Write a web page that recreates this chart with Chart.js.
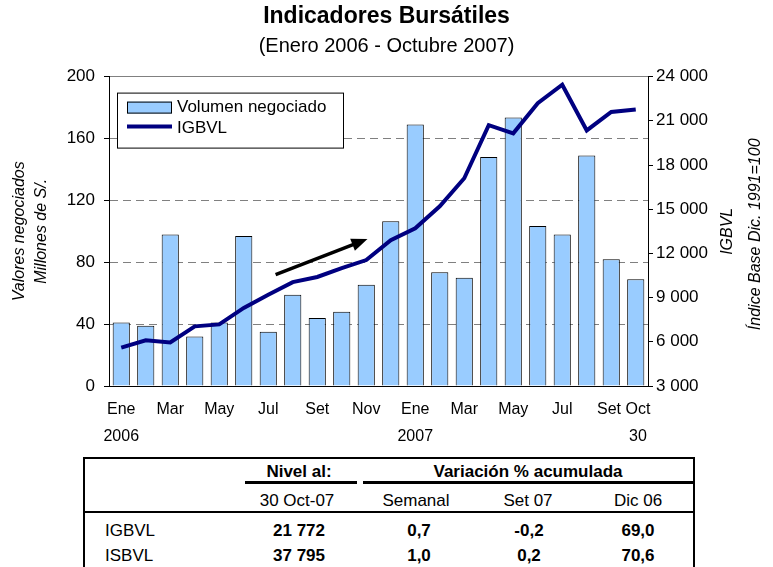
<!DOCTYPE html>
<html>
<head>
<meta charset="utf-8">
<script src="https://cdn.jsdelivr.net/npm/chart.js@4.4.1/dist/chart.umd.min.js"></script>
<style>
  body { margin: 0; background: #fff; overflow: hidden; width: 773px; height: 567px; position: relative; }
  #grafico { position: absolute; left: 0; top: 0; }
  #tabla { position: absolute; left: 83px; top: 457px; width: 612px; height: 130px; box-sizing: border-box;
           border: 2px solid #000; border-bottom: none; font-family: 'Liberation Sans', Arial, sans-serif;
           font-size: 17px; color: #000; }
  #tabla .c { position: absolute; transform: translate(-50%, -50%); white-space: nowrap; }
  #tabla .l { position: absolute; transform: translateY(-50%); white-space: nowrap; }
  #tabla .b { font-weight: bold; }
  #tabla .rule { position: absolute; background: #000; }
</style>
</head>
<body>
<canvas id="grafico" width="773" height="455"></canvas>
<div id="tabla"></div>
<script>
// datos del grafico
const meses = ['Ene', 'Feb', 'Mar', 'Abr', 'May', 'Jun', 'Jul', 'Ago', 'Set', 'Oct', 'Nov', 'Dic',
               'Ene', 'Feb', 'Mar', 'Abr', 'May', 'Jun', 'Jul', 'Ago', 'Set', 'Oct'];
const segundaLinea = {0: '2006', 12: '2007', 21: '30'};
const volumen = [41, 39, 98, 32, 41, 97, 35, 59, 44, 48, 65.5, 106.5,
                 169, 73.5, 70, 148, 173.5, 103.5, 98, 149, 82, 69];
const igbvl = [5600, 6100, 5950, 7050, 7180, 8300, 9200, 10050, 10400, 11000, 11550, 12900,
               13700, 15200, 17100, 20700, 20150, 22200, 23450, 20350, 21600, 21772];
// flecha de tendencia (indice de mes, valor eje izquierdo)
const flechaDesde = [6.3, 72];
const flechaHasta = [10.05, 95];

// datos de la tabla
const filas = ['IGBVL', 'ISBVL'];
const nivel = ['21 772', '37 795'];
const semanal = ['0,7', '1,0'];
const set07 = ['-0,2', '0,2'];
const dic06 = ['69,0', '70,6'];

const FUENTE = "'Liberation Sans', Arial, sans-serif";
Chart.defaults.font.family = FUENTE;
Chart.defaults.color = '#000';

function miles(v) {
    return String(v).replace(/\B(?=(\d{3})+(?!\d))/g, ' ');
}

const extras = {
    id: 'extras',
    afterDatasetsDraw(chart) {
        const {ctx, chartArea: a, scales: {x, y}} = chart;
        // flecha
        const x1 = x.getPixelForValue(flechaDesde[0]), y1 = y.getPixelForValue(flechaDesde[1]);
        const x2 = x.getPixelForValue(flechaHasta[0]), y2 = y.getPixelForValue(flechaHasta[1]);
        const ang = Math.atan2(y2 - y1, x2 - x1);
        ctx.save();
        ctx.strokeStyle = '#000';
        ctx.fillStyle = '#000';
        ctx.lineWidth = 3.5;
        ctx.beginPath();
        ctx.moveTo(x1, y1);
        ctx.lineTo(x2 - 12 * Math.cos(ang), y2 - 12 * Math.sin(ang));
        ctx.stroke();
        ctx.translate(x2, y2);
        ctx.rotate(ang);
        ctx.beginPath();
        ctx.moveTo(0, 0);
        ctx.lineTo(-16, -6.5);
        ctx.lineTo(-16, 6.5);
        ctx.closePath();
        ctx.fill();
        ctx.restore();

        // leyenda
        const ds = chart.data.datasets;
        const lx = a.left + 8, ly = a.top + 16;
        ctx.save();
        ctx.fillStyle = '#fff';
        ctx.fillRect(lx, ly, 226, 55);
        ctx.strokeStyle = '#000';
        ctx.lineWidth = 1;
        ctx.strokeRect(lx + 0.5, ly + 0.5, 226, 55);
        ctx.fillStyle = ds[1].backgroundColor;
        ctx.fillRect(lx + 10, ly + 9, 45, 12);
        ctx.strokeRect(lx + 10.5, ly + 9.5, 44, 11);
        ctx.strokeStyle = ds[0].borderColor;
        ctx.lineWidth = 4;
        ctx.beginPath();
        ctx.moveTo(lx + 10, ly + 34);
        ctx.lineTo(lx + 55, ly + 34);
        ctx.stroke();
        ctx.fillStyle = '#000';
        ctx.font = '17px ' + FUENTE;
        ctx.textBaseline = 'middle';
        ctx.fillText(ds[1].label, lx + 60, ly + 15);
        ctx.fillText(ds[0].label, lx + 60, ly + 36);
        ctx.restore();
    },
    afterDraw(chart) {
        const {ctx, chartArea: a} = chart;
        const cy = (a.top + a.bottom) / 2;
        ctx.save();
        ctx.fillStyle = '#000';
        ctx.font = 'italic 16px ' + FUENTE;
        ctx.textAlign = 'center';
        ctx.textBaseline = 'middle';
        ctx.translate(728, cy);
        ctx.rotate(-Math.PI / 2);
        ctx.fillText('IGBVL', 0, 0);
        ctx.fillText('Índice Base Dic. 1991=100', -3, 28);
        ctx.restore();
    }
};

function crearGrafico() {
    const ctx = document.getElementById('grafico');
    return new Chart(ctx, {
        type: 'bar',
        data: {
            labels: meses,
            datasets: [{
                type: 'line',
                label: 'IGBVL',
                data: igbvl,
                yAxisID: 'y1',
                borderColor: '#000080',
                borderWidth: 4,
                pointRadius: 0,
                tension: 0,
                order: 0
            }, {
                type: 'bar',
                label: 'Volumen negociado',
                data: volumen,
                yAxisID: 'y',
                backgroundColor: '#99CCFF',
                borderColor: '#000',
                borderWidth: 1,
                barPercentage: 0.7,
                categoryPercentage: 1,
                order: 1
            }]
        },
        options: {
            responsive: false,
            animation: false,
            layout: { padding: 0 },
            scales: {
                x: {
                    grid: { display: false, drawTicks: false },
                    border: { color: '#000', width: 1 },
                    ticks: {
                        autoSkip: false,
                        maxRotation: 0,
                        padding: 10,
                        font: { size: 16, lineHeight: 1.7 },
                        callback: function(value, index) {
                            const n = meses.length;
                            if (index % 2 !== 0 && index !== n - 1) return '';
                            let lineas = segundaLinea[index] ? [meses[index], segundaLinea[index]] : [meses[index]];
                            // separar un poco las dos ultimas etiquetas, como en el original
                            if (index === n - 2) lineas = lineas.map((s) => s + ' ');
                            if (index === n - 1) lineas = lineas.map((s) => ' ' + s);
                            return lineas.length > 1 ? lineas : lineas[0];
                        }
                    },
                    afterFit: (s) => { s.height = 69; }
                },
                y: {
                    position: 'left',
                    min: 0,
                    max: 200,
                    ticks: { stepSize: 40, padding: 9, font: { size: 17 } },
                    grid: {
                        color: (c) => c.tick && c.tick.value === 0 ? 'rgba(0,0,0,0)' : '#808080',
                        tickColor: '#000',
                        tickLength: 5
                    },
                    border: {
                        color: '#000',
                        width: 1,
                        dash: (c) => c.tick && c.tick.value === 200 ? [] : [8, 5]
                    },
                    title: {
                        display: true,
                        text: ['Valores negociados', 'Millones de S/.'],
                        font: { size: 16, style: 'italic', lineHeight: 1.375 },
                        padding: { top: 9, bottom: 0 }
                    },
                    afterFit: (s) => { s.width = 109; }
                },
                y1: {
                    position: 'right',
                    min: 3000,
                    max: 24000,
                    ticks: { stepSize: 3000, padding: 3, font: { size: 17 }, callback: (v) => miles(v) },
                    grid: { drawOnChartArea: false, tickColor: '#000', tickLength: 5 },
                    border: { color: '#000', width: 1 },
                    afterFit: (s) => { s.width = 125; }
                }
            },
            plugins: {
                legend: { display: false },
                tooltip: { enabled: false },
                title: {
                    display: true,
                    text: 'Indicadores Bursátiles',
                    color: '#000',
                    font: { size: 23, weight: 'bold' },
                    padding: { top: 3, bottom: 2 }
                },
                subtitle: {
                    display: true,
                    text: '(Enero 2006 - Octubre 2007)',
                    color: '#000',
                    font: { size: 20 },
                    padding: { top: 2, bottom: 18 }
                }
            }
        },
        plugins: [extras]
    });
}

function crearTabla() {
    const t = document.getElementById('tabla');
    let html = '';
    const txt = (cls, x, y, s) => { html += `<span class="${cls}" style="left:${x}px;top:${y}px">${s}</span>`; };
    const regla = (x, y, w, h) => { html += `<div class="rule" style="left:${x}px;top:${y}px;width:${w}px;height:${h}px"></div>`; };
    txt('c b', 214, 13, 'Nivel al:');
    txt('c b', 443, 13, 'Variación % acumulada');
    regla(160, 22, 112, 3);
    regla(278, 22, 330, 3);
    txt('c', 212, 42, '30 Oct-07');
    txt('c', 331, 42, 'Semanal');
    txt('c', 443, 42, 'Set 07');
    txt('c', 553, 42, 'Dic 06');
    regla(0, 52, 608, 2);
    filas.forEach((f, i) => {
        const y = 72 + i * 25;
        txt('l', 20, y, f);
        txt('c b', 214, y, nivel[i]);
        txt('c b', 334, y, semanal[i]);
        txt('c b', 444, y, set07[i]);
        txt('c b', 553, y, dic06[i]);
    });
    t.innerHTML = html;
}

crearGrafico();
crearTabla();
</script>
</body>
</html>
